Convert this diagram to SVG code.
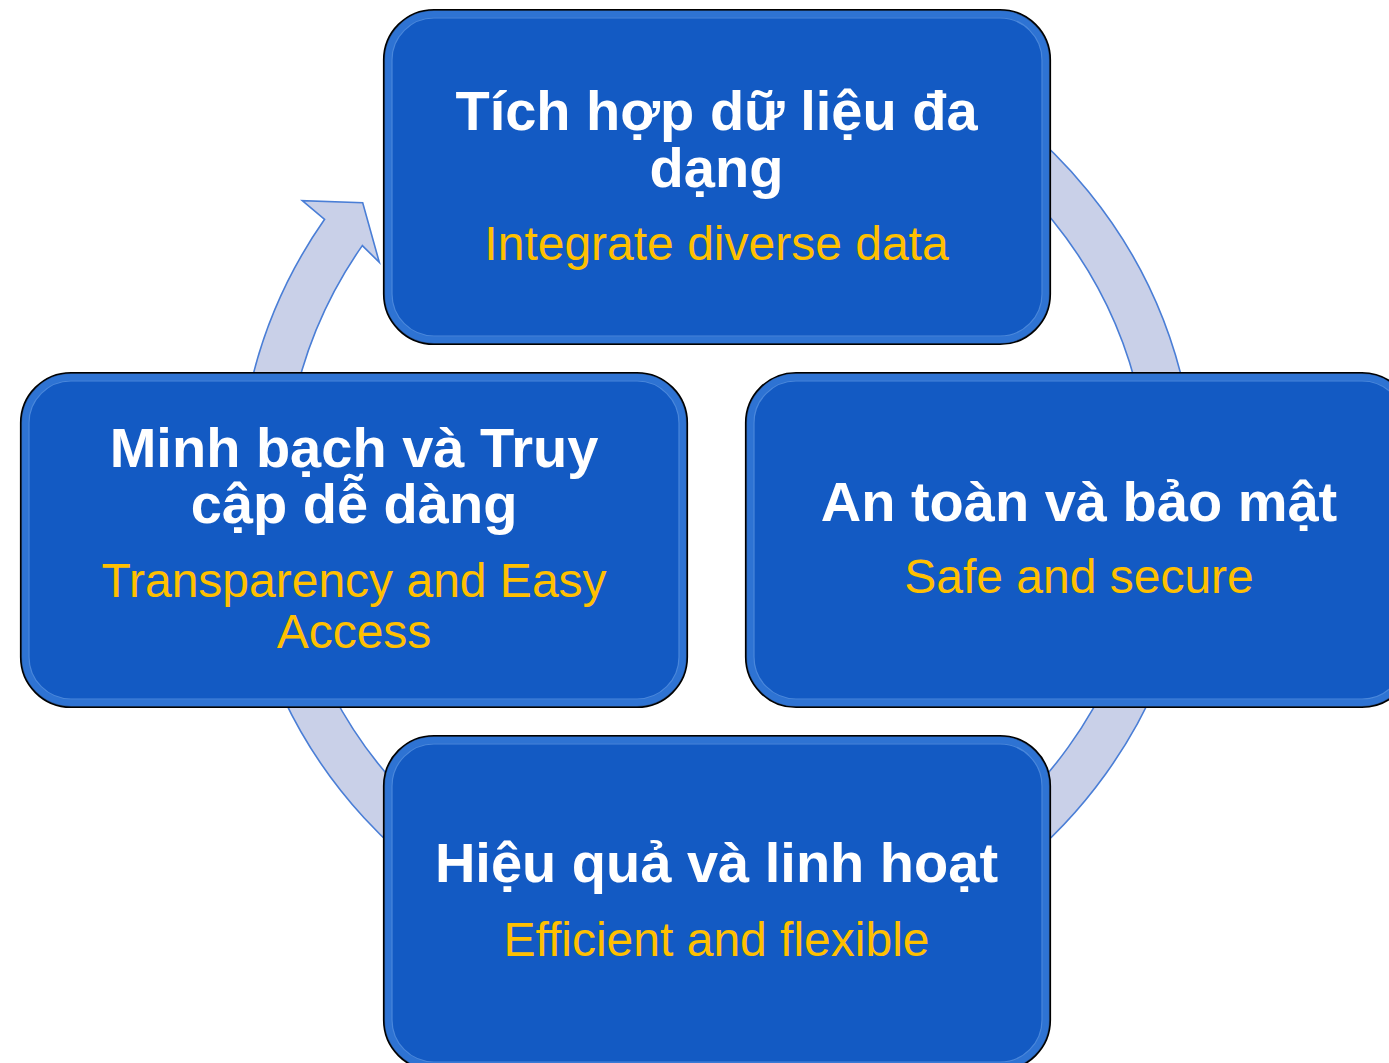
<svg xmlns="http://www.w3.org/2000/svg" width="1389" height="1063" viewBox="0 0 1389 1063">
<style>
.box{fill:#135AC3;stroke:#000;stroke-width:2.2}
.bev{fill:none;stroke:#3A7DDA;stroke-width:7;opacity:.7}
.hl{fill:none;stroke:#9CCBFF;stroke-width:1.2;opacity:.4}
.t{font-family:"Liberation Sans",Arial,sans-serif;font-weight:bold;font-size:56px;fill:#fff;text-anchor:middle}
.s{font-family:"Liberation Sans",Arial,sans-serif;font-size:48px;fill:#FFC000;text-anchor:middle}
.ring{fill:#C9D0E8;stroke:#4A7ED6;stroke-width:1.6;stroke-linejoin:miter}
</style>
<rect width="1389" height="1063" fill="#fff"/>
<g id="connectors">
<path class="ring" d="M 717 15 A 479 479 0 1 1 324.6 219.3 L 302.3 200.7 L 362.7 202.7 L 379.3 262.3 L 362.3 245.6 A 433 433 0 1 0 717 61 Z"/>
</g>
<g id="node-top">
<rect class="box" x="384" y="10" width="666" height="334" rx="50"/>
<rect class="bev" x="388" y="14" width="658" height="326" rx="46"/>
<rect class="hl" x="392" y="18" width="650" height="318" rx="42"/>
<text class="t" x="716.5" y="130">Tích hợp dữ liệu đa</text>
<text class="t" x="716.5" y="187">dạng</text>
<text class="s" x="716.5" y="260">Integrate diverse data</text>
</g>
<g id="node-left">
<rect class="box" x="21" y="373" width="666" height="334" rx="50"/>
<rect class="bev" x="25" y="377" width="658" height="326" rx="46"/>
<rect class="hl" x="29" y="381" width="650" height="318" rx="42"/>
<text class="t" x="354" y="467">Minh bạch và Truy</text>
<text class="t" x="354" y="523">cập dễ dàng</text>
<text class="s" x="354" y="597">Transparency and Easy</text>
<text class="s" x="354" y="648">Access</text>
</g>
<g id="node-right">
<rect class="box" x="746" y="373" width="666" height="334" rx="50"/>
<rect class="bev" x="750" y="377" width="658" height="326" rx="46"/>
<rect class="hl" x="754" y="381" width="650" height="318" rx="42"/>
<text class="t" x="1079" y="521">An toàn và bảo mật</text>
<text class="s" x="1079" y="593">Safe and secure</text>
</g>
<g id="node-bottom">
<rect class="box" x="384" y="736" width="666" height="334" rx="50"/>
<rect class="bev" x="388" y="740" width="658" height="326" rx="46"/>
<rect class="hl" x="392" y="744" width="650" height="318" rx="42"/>
<text class="t" x="716.5" y="882">Hiệu quả và linh hoạt</text>
<text class="s" x="716.5" y="956">Efficient and flexible</text>
</g>
</svg>
